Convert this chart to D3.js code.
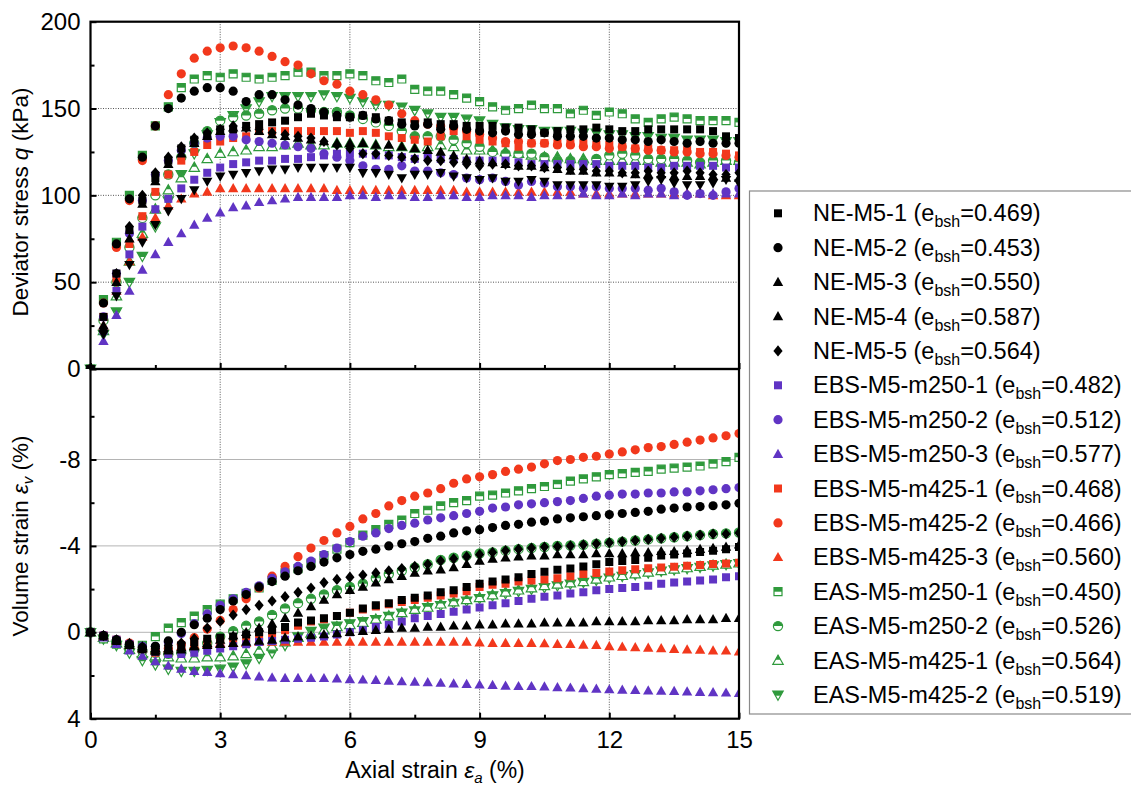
<!DOCTYPE html>
<html><head><meta charset="utf-8">
<script src="https://cdn.jsdelivr.net/npm/d3@7"></script>
<style>
body{margin:0;background:#fff;}
text{font-family:"Liberation Sans",Arial,Helvetica,sans-serif;fill:#000;}
</style></head><body>
<svg id="chart" width="1131" height="788"></svg>
<script>
// Axial strain sampling points (%)
const axialStrain = [0,0.3,0.6,0.9,1.2,1.5,1.8,2.1,2.4,2.7,3.0,3.3,3.6,3.9,4.2,4.5,4.8,5.1,5.4,5.7,6.0,6.3,6.6,6.9,7.2,7.5,7.8,8.1,8.4,8.7,9.0,9.3,9.6,9.9,10.2,10.5,10.8,11.1,11.4,11.7,12.0,12.3,12.6,12.9,13.2,13.5,13.8,14.1,14.4,14.7,15.0];

// Deviator stress q (kPa)
const qNE1 = [0,30,55,80,97,110,120,127,132,135,138,138,140,141,142,143,145,147,146,145,145,146,145,143,142,141,142,141,141,140,140,140,139,139,138,136,137,138,138,139,138,137,137,138,138,138,138,138,137,134,133];
const qNE2 = [0,38,72,98,122,140,150,156,160,162,162,160,154,158,158,155,152,150,148,146,145,146,144,143,141,140,141,138,140,138,137,136,137,135,135,136,134,134,134,133,133,132,132,131,132,131,130,131,130,130,130];
const qNE3 = [0,25,50,75,95,108,118,124,130,134,137,139,139,137,135,134,133,132,131,130,130,130,129,129,128,127,126,125,123,121,120,119,118,117,117,116,115,114,114,113,113,113,112,112,112,111,111,111,111,110,110];
const qNE4 = [0,20,42,60,73,83,91,98,103,108,111,112,113,114,115,115,116,116,116,116,116,113,113,112,110,112,112,113,111,110,109,110,108,108,109,108,106,106,106,106,105,105,106,108,109,107,106,106,107,109,107];
const qNE5 = [0,22,55,82,100,113,122,128,133,136,138,140,139,138,136,135,134,133,131,129,127,124,124,123,122,121,120,120,119,118,117,118,118,117,117,116,116,115,115,114,114,113,113,114,113,113,114,113,112,112,113];
const qEBS250a = [0,22,45,66,82,92,98,104,109,113,116,118,119,120,120,121,121,122,123,124,124,124,123,123,122,121,122,121,121,120,120,120,120,119,118,118,118,118,118,118,117,117,117,116,116,117,117,117,117,116,116];
const qEBS250b = [0,30,55,78,97,112,120,126,130,133,134,134,132,131,130,129,128,127,124,122,120,117,115,115,117,114,114,113,112,110,109,110,108,106,108,107,105,105,104,105,104,104,104,103,104,102,100,101,100,102,104];
const qEBS250c = [0,16,31,45,57,66,73,78,83,87,90,93,94,96,97,98,99,99,99,99,100,100,99,100,100,99,99,100,100,99,99,100,100,100,99,100,100,100,101,100,100,101,100,101,101,100,101,101,101,101,101];
const qEBS425a = [0,30,52,72,88,102,112,120,125,129,131,133,134,137,137,137,137,137,137,137,136,137,136,134,133,132,131,134,137,134,132,131,130,128,130,130,130,130,130,129,129,128,127,127,126,126,126,125,125,124,123];
const qEBS425b = [0,38,70,97,120,140,158,170,179,183,185,186,185,183,180,177,175,170,166,164,160,158,155,152,147,143,141,140,139,137,135,133,131,131,130,130,129,129,128,128,127,128,127,126,126,125,125,124,124,123,122];
const qEBS425c = [0,25,45,62,76,87,94,98,101,102,104,104,104,104,104,104,104,104,104,103,103,103,103,103,103,103,103,103,103,102,102,102,102,102,102,102,102,102,101,101,101,101,101,101,101,101,101,101,100,100,100];
const qEAS250a = [0,40,73,100,123,140,151,162,167,169,168,170,168,167,168,169,171,171,169,169,170,169,166,165,167,161,160,160,158,156,154,151,149,150,152,150,150,147,149,146,148,147,144,142,144,145,144,143,143,143,142];
const qEAS250b = [0,28,50,70,87,100,112,122,130,137,143,145,146,147,149,150,150,149,148,148,146,144,142,140,137,134,134,134,132,130,128,125,124,124,124,122,120,120,119,121,123,124,123,121,121,121,120,119,120,120,119];
const qEAS425a = [0,22,42,62,78,92,103,110,116,121,124,125,126,128,128,129,130,129,129,130,130,130,129,128,128,127,128,129,128,126,126,126,125,124,123,122,122,121,121,120,120,120,120,120,119,119,119,118,119,120,120];
const qEAS425b = [0,20,33,50,65,82,97,112,124,135,142,146,150,154,157,157,157,157,158,157,156,154,152,152,151,149,147,145,145,144,143,141,139,138,138,137,137,137,136,136,135,135,134,134,133,133,132,132,132,131,131];

// Volume strain (%), negative = dilation
const evNE1 = [0,0.2,0.4,0.6,0.8,0.9,0.8,0.6,0.45,0.3,0.25,0.2,0.1,0.0,-0.1,-0.25,-0.45,-0.55,-0.65,-0.75,-0.9,-1.1,-1.25,-1.35,-1.5,-1.6,-1.7,-1.85,-1.95,-2.1,-2.25,-2.35,-2.45,-2.55,-2.7,-2.8,-2.9,-2.95,-3.05,-3.15,-3.25,-3.3,-3.35,-3.45,-3.55,-3.6,-3.65,-3.72,-3.78,-3.85,-3.95];
const evNE2 = [0,0.15,0.35,0.55,0.7,0.65,0.4,0.0,-0.35,-0.65,-1.05,-1.45,-1.75,-2.1,-2.35,-2.6,-2.85,-3.05,-3.25,-3.45,-3.6,-3.75,-3.85,-4.0,-4.1,-4.2,-4.35,-4.45,-4.6,-4.7,-4.75,-4.85,-4.95,-5.0,-5.1,-5.15,-5.25,-5.3,-5.35,-5.4,-5.45,-5.5,-5.55,-5.6,-5.7,-5.75,-5.8,-5.82,-5.86,-5.9,-5.97];
const evNE3 = [0,0.15,0.4,0.6,0.75,0.85,0.85,0.8,0.65,0.5,0.35,0.15,0.0,-0.2,-0.4,-0.65,-0.9,-1.2,-1.5,-1.75,-1.95,-2.1,-2.3,-2.45,-2.6,-2.75,-2.85,-2.9,-3.0,-3.15,-3.3,-3.4,-3.45,-3.5,-3.55,-3.55,-3.6,-3.6,-3.6,-3.65,-3.65,-3.65,-3.7,-3.7,-3.75,-3.75,-3.8,-3.85,-3.9,-3.95,-4.05];
const evNE4 = [0,0.15,0.35,0.5,0.65,0.75,0.75,0.7,0.65,0.6,0.55,0.5,0.45,0.4,0.35,0.25,0.2,0.15,0.1,0.05,0.0,-0.05,-0.1,-0.15,-0.2,-0.2,-0.25,-0.25,-0.3,-0.3,-0.35,-0.35,-0.4,-0.4,-0.4,-0.45,-0.45,-0.45,-0.45,-0.5,-0.5,-0.5,-0.5,-0.55,-0.55,-0.55,-0.6,-0.6,-0.6,-0.65,-0.65];
const evNE5 = [0,0.15,0.35,0.55,0.7,0.75,0.6,0.5,0.3,-0.2,-0.5,-0.8,-1.05,-1.25,-1.45,-1.65,-1.85,-2.05,-2.3,-2.45,-2.55,-2.65,-2.75,-2.85,-2.95,-3.05,-3.15,-3.3,-3.4,-3.5,-3.6,-3.7,-3.78,-3.85,-3.9,-3.95,-3.97,-4.0,-4.05,-4.1,-4.15,-4.2,-4.25,-4.3,-4.35,-4.4,-4.45,-4.5,-4.55,-4.55,-4.6];
const evEBS250a = [0,0.15,0.35,0.55,0.75,0.9,1.0,1.0,0.95,0.85,0.75,0.65,0.55,0.45,0.4,0.35,0.3,0.25,0.2,0.1,0.0,-0.1,-0.25,-0.35,-0.5,-0.65,-0.75,-0.85,-0.95,-1.05,-1.15,-1.25,-1.35,-1.45,-1.55,-1.65,-1.7,-1.8,-1.85,-1.95,-2.0,-2.05,-2.1,-2.15,-2.25,-2.3,-2.35,-2.4,-2.45,-2.55,-2.6];
const evEBS250b = [0,0.15,0.35,0.55,0.65,0.65,0.45,0.05,-0.4,-0.85,-1.25,-1.55,-1.85,-2.15,-2.5,-2.8,-3.05,-3.3,-3.6,-3.9,-4.2,-4.45,-4.6,-4.8,-4.95,-5.05,-5.2,-5.3,-5.4,-5.5,-5.6,-5.75,-5.8,-5.9,-5.95,-6.0,-6.05,-6.1,-6.2,-6.3,-6.35,-6.4,-6.4,-6.45,-6.45,-6.5,-6.5,-6.55,-6.6,-6.65,-6.7];
const evEBS250c = [0,0.25,0.55,0.85,1.1,1.35,1.55,1.7,1.8,1.85,1.9,1.95,2.0,2.05,2.1,2.12,2.12,2.13,2.13,2.15,2.18,2.2,2.22,2.25,2.28,2.3,2.32,2.35,2.38,2.4,2.43,2.45,2.48,2.5,2.5,2.52,2.55,2.57,2.6,2.62,2.65,2.67,2.68,2.7,2.72,2.73,2.75,2.77,2.78,2.8,2.82];
const evEBS425a = [0,0.15,0.35,0.55,0.75,0.95,0.9,0.7,0.55,0.45,0.4,0.35,0.3,0.2,0.05,-0.1,-0.3,-0.5,-0.6,-0.75,-0.9,-1.05,-1.2,-1.3,-1.4,-1.5,-1.6,-1.7,-1.8,-1.9,-2.1,-2.2,-2.25,-2.35,-2.4,-2.45,-2.5,-2.6,-2.7,-2.75,-2.82,-2.87,-2.92,-2.96,-3.0,-3.04,-3.08,-3.12,-3.16,-3.19,-3.22];
const evEBS425b = [0,0.15,0.35,0.5,0.7,0.8,0.75,0.55,0.25,-0.15,-0.55,-1.05,-1.55,-2.05,-2.6,-3.05,-3.5,-3.9,-4.25,-4.6,-4.9,-5.25,-5.5,-5.85,-6.1,-6.3,-6.45,-6.65,-6.9,-7.1,-7.2,-7.3,-7.45,-7.55,-7.65,-7.8,-7.95,-8.0,-8.1,-8.15,-8.25,-8.35,-8.45,-8.55,-8.6,-8.7,-8.8,-8.9,-9.0,-9.1,-9.2];
const evEBS425c = [0,0.2,0.4,0.6,0.75,0.8,0.75,0.65,0.6,0.55,0.5,0.5,0.5,0.45,0.45,0.45,0.45,0.45,0.45,0.45,0.45,0.45,0.45,0.45,0.45,0.45,0.45,0.45,0.45,0.45,0.48,0.5,0.5,0.5,0.5,0.52,0.55,0.55,0.58,0.6,0.65,0.68,0.7,0.72,0.75,0.78,0.8,0.82,0.85,0.85,0.9];
const evEAS250a = [0,0.3,0.55,0.7,0.6,0.2,-0.2,-0.45,-0.75,-1.05,-1.3,-1.55,-1.8,-2.05,-2.4,-2.75,-2.95,-3.2,-3.55,-3.85,-4.15,-4.5,-4.75,-5.0,-5.2,-5.5,-5.65,-5.85,-6.0,-6.1,-6.3,-6.35,-6.45,-6.55,-6.65,-6.75,-6.85,-7.0,-7.1,-7.2,-7.3,-7.35,-7.4,-7.45,-7.55,-7.6,-7.65,-7.7,-7.8,-7.9,-8.1];
const evEAS250b = [0,0.2,0.45,0.7,0.85,0.95,1.0,0.95,0.8,0.5,0.2,-0.05,-0.3,-0.5,-0.8,-1.1,-1.35,-1.55,-1.75,-1.95,-2.1,-2.25,-2.5,-2.7,-2.85,-3.0,-3.15,-3.35,-3.45,-3.55,-3.65,-3.7,-3.78,-3.85,-3.9,-3.95,-4.0,-4.02,-4.05,-4.1,-4.15,-4.2,-4.25,-4.3,-4.35,-4.4,-4.45,-4.5,-4.55,-4.58,-4.62];
const evEAS425a = [0,0.25,0.5,0.8,1.0,1.1,1.15,1.2,1.2,1.15,1.15,1.1,1.0,0.85,0.65,0.45,0.25,0.05,-0.1,-0.25,-0.35,-0.45,-0.6,-0.75,-0.9,-1.05,-1.15,-1.3,-1.4,-1.5,-1.6,-1.72,-1.85,-1.95,-2.05,-2.15,-2.22,-2.28,-2.34,-2.45,-2.55,-2.62,-2.7,-2.78,-2.85,-2.92,-2.98,-3.04,-3.1,-3.15,-3.2];
const evEAS425b = [0,0.3,0.6,0.95,1.3,1.5,1.7,1.8,1.8,1.75,1.7,1.6,1.45,1.2,0.95,0.6,0.2,-0.05,-0.2,-0.3,-0.4,-0.5,-0.6,-0.75,-0.9,-1.0,-1.15,-1.25,-1.35,-1.45,-1.57,-1.7,-1.8,-1.9,-2.0,-2.08,-2.16,-2.24,-2.32,-2.42,-2.52,-2.6,-2.68,-2.76,-2.84,-2.9,-2.96,-3.02,-3.08,-3.14,-3.19];

// Specimen labels and void ratios
const specimenNames = ["NE-M5-1","NE-M5-2","NE-M5-3","NE-M5-4","NE-M5-5","EBS-M5-m250-1","EBS-M5-m250-2","EBS-M5-m250-3","EBS-M5-m425-1","EBS-M5-m425-2","EBS-M5-m425-3","EAS-M5-m250-1","EAS-M5-m250-2","EAS-M5-m425-1","EAS-M5-m425-2"];
const voidRatios = ["0.469","0.453","0.550","0.587","0.564","0.482","0.512","0.577","0.468","0.466","0.560","0.450","0.526","0.564","0.519"];
const qSeries = [qNE1,qNE2,qNE3,qNE4,qNE5,qEBS250a,qEBS250b,qEBS250c,qEBS425a,qEBS425b,qEBS425c,qEAS250a,qEAS250b,qEAS425a,qEAS425b];
const evSeries = [evNE1,evNE2,evNE3,evNE4,evNE5,evEBS250a,evEBS250b,evEBS250c,evEBS425a,evEBS425b,evEBS425c,evEAS250a,evEAS250b,evEAS425a,evEAS425b];

// Tick labels
const xTicks = [0,3,6,9,12,15];
const xMinor = [1.5,4.5,7.5,10.5,13.5];
const qTicks = [0,50,100,150,200];
const qMinor = [25,75,125,175];
const evTicks = [-8,-4,0,4];
const evMinor = [-10,-6,-2,2];

// Marker styling
const BLACK = "#000000", PURPLE = "#6034c4", RED = "#f2381c", GREEN = "#2f9a3c";
const markerColors = [BLACK,BLACK,BLACK,BLACK,BLACK,PURPLE,PURPLE,PURPLE,RED,RED,RED,GREEN,GREEN,GREEN,GREEN];
const legendShapes = ["square","circle","triUp","triUp","diamond","square","circle","triUp","square","circle","triUp","square","circle","triUp","triDown"];
const qShapes      = ["square","circle","triUp","triDown","diamond","square","circle","triUp","square","circle","triUp","square","circle","triUp","triDown"];
const halfFilled = [false,false,false,false,false,false,false,false,false,false,false,true,true,true,true];

const FONT = '"Liberation Sans",Arial,sans-serif';
const svg = d3.select("#chart");
const L = 90.5, R = 739, T = 21.7, MID = 369, B = 718.7;

const x = d3.scaleLinear().domain([0,15]).range([L,R]);
const yq = d3.scaleLinear().domain([0,200]).range([MID,T]);
const yv = d3.scaleLinear().domain([-12.19,4]).range([MID,B]);

function shapePath(shape){
  switch(shape){
    case "square": return "M-4,-4H4V4H-4Z";
    case "circle": return "M-4.6,0A4.6,4.6 0 1,1 4.6,0A4.6,4.6 0 1,1 -4.6,0Z";
    case "triUp": return "M0,-5.4L5.2,3.8L-5.2,3.8Z";
    case "triDown": return "M0,5.4L5.2,-3.8L-5.2,-3.8Z";
    case "diamond": return "M0,-5.6L4.6,0L0,5.6L-4.6,0Z";
  }
}
function topHalfPath(shape){
  switch(shape){
    case "square": return "M-4,-4H4V0H-4Z";
    case "circle": return "M-4.6,0A4.6,4.6 0 0,1 4.6,0Z";
    case "triUp": return "M0,-5.4L2.6,-0.8L-2.6,-0.8Z";
    case "triDown": return "M-5.2,-3.8L5.2,-3.8L2.6,0.8L-2.6,0.8Z";
  }
}
function drawMarker(sel, shape, color, half){
  if(half){
    sel.append("path").attr("d", shapePath(shape)).attr("fill","#fff").attr("stroke",color).attr("stroke-width",1.2);
    sel.append("path").attr("d", topHalfPath(shape)).attr("fill",color);
  } else {
    sel.append("path").attr("d", shapePath(shape)).attr("fill",color);
  }
}

// clip markers at the right frame edge
const defs = svg.append("defs");
defs.append("clipPath").attr("id","clipTop").append("rect").attr("x",0).attr("y",0).attr("width",R).attr("height",MID);
defs.append("clipPath").attr("id","clipBot").append("rect").attr("x",0).attr("y",MID).attr("width",R).attr("height",B-MID+10);

// ---- grid lines ----
const grid = svg.append("g");
xTicks.filter(v=>v>0&&v<15).forEach(v=>{
  grid.append("line").attr("x1",x(v)).attr("x2",x(v)).attr("y1",T).attr("y2",B)
    .attr("stroke","#555").attr("stroke-width",1).attr("stroke-dasharray","1,1.5");
});
qTicks.filter(v=>v>0&&v<200).forEach(v=>{
  grid.append("line").attr("x1",L).attr("x2",R).attr("y1",yq(v)).attr("y2",yq(v))
    .attr("stroke","#555").attr("stroke-width",1).attr("stroke-dasharray","1,1.5");
});
evTicks.filter(v=>v<4).forEach(v=>{
  grid.append("line").attr("x1",L).attr("x2",R).attr("y1",yv(v)).attr("y2",yv(v))
    .attr("stroke","#b4b4b4").attr("stroke-width",1);
});

// ---- data markers ----
const topLayer = svg.append("g").attr("clip-path","url(#clipTop)");
const botLayer = svg.append("g").attr("clip-path","url(#clipBot)");
for(let i = specimenNames.length-1; i >= 0; i--){
  const qPts = axialStrain.map((s,j)=>[s,qSeries[i][j]]);
  topLayer.append("g").selectAll("g").data(qPts).join("g")
    .attr("transform",d=>`translate(${x(d[0])},${yq(d[1])})`)
    .each(function(){ drawMarker(d3.select(this), qShapes[i], markerColors[i], halfFilled[i]); });
  const vPts = axialStrain.map((s,j)=>[s,evSeries[i][j]]);
  botLayer.append("g").selectAll("g").data(vPts).join("g")
    .attr("transform",d=>`translate(${x(d[0])},${yv(d[1])})`)
    .each(function(){ drawMarker(d3.select(this), legendShapes[i], markerColors[i], halfFilled[i]); });
}

// ---- axes ----
const plainNum = d => String(d);
function styleAxis(g){
  g.select(".domain").remove();
  g.selectAll(".tick line").attr("stroke","#000").attr("stroke-width",2);
  g.selectAll(".tick text").attr("font-size",24).attr("font-family",FONT).attr("fill","#000");
}
svg.append("g").attr("transform",`translate(${L},0)`)
  .call(d3.axisLeft(yq).tickValues(qTicks).tickSize(-6).tickPadding(10).tickFormat(plainNum)).call(styleAxis);
svg.append("g").attr("transform",`translate(${L},0)`)
  .call(d3.axisLeft(yq).tickValues(qMinor).tickSize(-4).tickFormat("")).call(styleAxis);
svg.append("g").attr("transform",`translate(${L},0)`)
  .call(d3.axisLeft(yv).tickValues(evTicks).tickSize(-6).tickPadding(10).tickFormat(plainNum)).call(styleAxis);
svg.append("g").attr("transform",`translate(${L},0)`)
  .call(d3.axisLeft(yv).tickValues(evMinor).tickSize(-4).tickFormat("")).call(styleAxis);
// bottom axis of upper panel (ticks only)
svg.append("g").attr("transform",`translate(0,${MID})`)
  .call(d3.axisBottom(x).tickValues(xTicks).tickSize(-6).tickFormat("")).call(styleAxis);
svg.append("g").attr("transform",`translate(0,${MID})`)
  .call(d3.axisBottom(x).tickValues(xMinor).tickSize(-4).tickFormat("")).call(styleAxis);
// bottom axis of lower panel
svg.append("g").attr("transform",`translate(0,${B})`)
  .call(d3.axisBottom(x).tickValues(xTicks).tickSize(-6).tickPadding(12).tickFormat(plainNum)).call(styleAxis);
svg.append("g").attr("transform",`translate(0,${B})`)
  .call(d3.axisBottom(x).tickValues(xMinor).tickSize(-4).tickFormat("")).call(styleAxis);

// ---- frames ----
svg.append("rect").attr("x",L).attr("y",T).attr("width",R-L).attr("height",MID-T)
  .attr("fill","none").attr("stroke","#000").attr("stroke-width",2.2);
svg.append("rect").attr("x",L).attr("y",MID).attr("width",R-L).attr("height",B-MID)
  .attr("fill","none").attr("stroke","#000").attr("stroke-width",2.2);

// ---- axis titles ----
const yt1 = svg.append("text").attr("transform","translate(28,202) rotate(-90)")
  .attr("text-anchor","middle").attr("font-size",22.5);
yt1.append("tspan").text("Deviator stress ");
yt1.append("tspan").attr("font-style","italic").text("q");
yt1.append("tspan").text(" (kPa)");

const yt2 = svg.append("text").attr("transform","translate(28,536) rotate(-90)")
  .attr("text-anchor","middle").attr("font-size",22.5);
yt2.append("tspan").text("Volume strain ");
yt2.append("tspan").attr("font-style","italic").text("ε");
yt2.append("tspan").attr("font-style","italic").attr("font-size",15).attr("dy",5).text("v");
yt2.append("tspan").attr("dy",-5).text(" (%)");

const xt = svg.append("text").attr("x",435).attr("y",778).attr("text-anchor","middle").attr("font-size",23);
xt.append("tspan").text("Axial strain ");
xt.append("tspan").attr("font-style","italic").text("ε");
xt.append("tspan").attr("font-style","italic").attr("font-size",15).attr("dy",5).text("a");
xt.append("tspan").attr("dy",-5).text(" (%)");

// ---- legend ----
const lg = svg.append("g");
lg.append("rect").attr("x",749.5).attr("y",191).attr("width",420).attr("height",523)
  .attr("fill","#fff").attr("stroke","#8a8a8a").attr("stroke-width",1.2);
specimenNames.forEach((name,i)=>{
  const cy = 213.3 + i*34.4;
  const m = lg.append("g").attr("transform",`translate(778,${cy})`);
  drawMarker(m, legendShapes[i], markerColors[i], halfFilled[i]);
  const t = lg.append("text").attr("x",813).attr("y",cy+8).attr("font-size",23.5);
  t.append("tspan").text(name + " (e");
  t.append("tspan").attr("font-size",16).attr("dy",6).text("bsh");
  t.append("tspan").attr("dy",-6).text("=" + voidRatios[i] + ")");
});
</script>
</body></html>
